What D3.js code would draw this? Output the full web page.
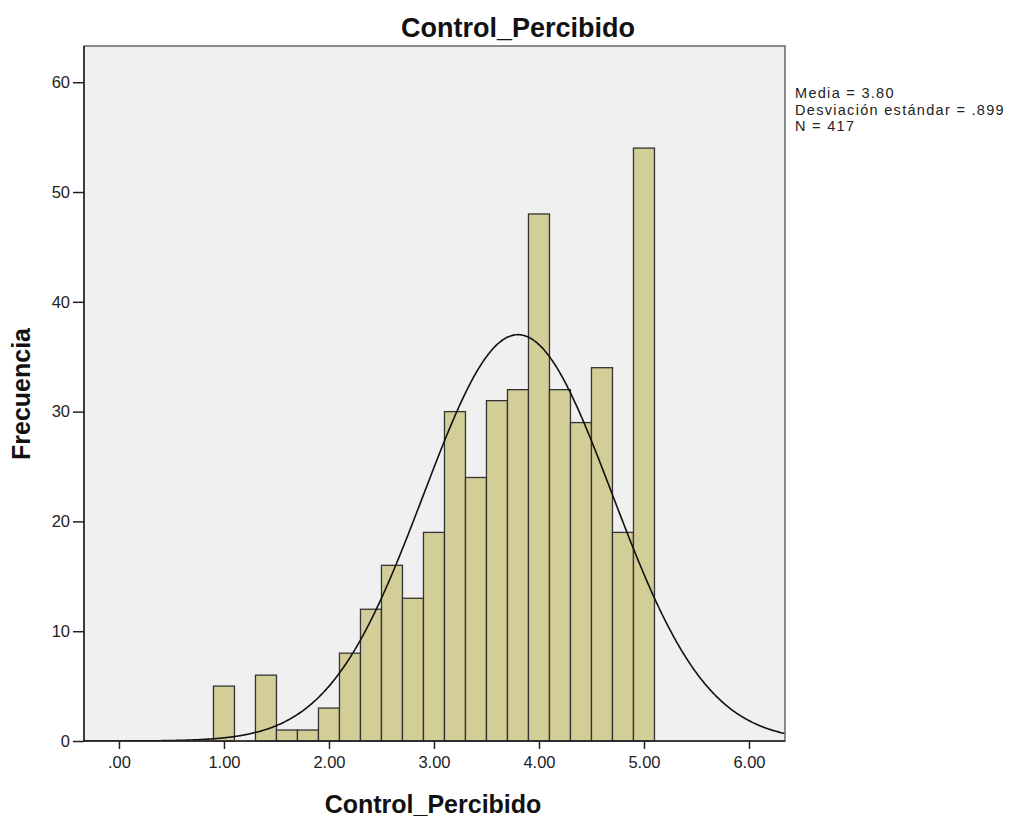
<!DOCTYPE html>
<html><head><meta charset="utf-8">
<script src="https://cdn.jsdelivr.net/npm/d3@7"></script>
<style>body{margin:0;background:#fff;} text{font-family:"Liberation Sans",Arial,sans-serif;}</style>
</head><body>
<svg id="c" width="1024" height="819"></svg>
<script>
const binCenters = [1.0,1.2,1.4,1.6,1.8,2.0,2.2,2.4,2.6,2.8,3.0,3.2,3.4,3.6,3.8,4.0,4.2,4.4,4.6,4.8,5.0];
const counts     = [5,0,6,1,1,3,8,12,16,13,19,30,24,31,32,48,32,29,34,19,54];
const binWidth = 0.2;
const xTicks = [0,1,2,3,4,5,6];
const xTickLabels = [".00","1.00","2.00","3.00","4.00","5.00","6.00"];
const yTicks = [0,10,20,30,40,50,60];
const statsLines = ["Media = 3.80","Desviación estándar = .899","N = 417"];
const mean = 3.80, sd = 0.899, N = 417;

const svg = d3.select("#c");
const L=84, T=46, R=785, B=741;
const x = d3.scaleLinear().domain([-0.333, 6.343]).range([L, R]);
const y = d3.scaleLinear().domain([0, 63.3]).range([B, T]);

svg.append("rect").attr("x",L).attr("y",T).attr("width",R-L).attr("height",B-T)
  .attr("fill","#f0f0f0").attr("stroke","#666").attr("stroke-width",1.5);

svg.append("clipPath").attr("id","clip").append("rect").attr("x",L).attr("y",T).attr("width",R-L).attr("height",B-T);

svg.append("g").selectAll("rect").data(binCenters.map((c,i)=>({c,v:counts[i]})).filter(d=>d.v>0))
  .join("rect")
  .attr("x",d=>x(d.c-binWidth/2)).attr("width",d=>x(d.c+binWidth/2)-x(d.c-binWidth/2))
  .attr("y",d=>y(d.v)).attr("height",d=>y(0)-y(d.v))
  .attr("fill","#d3ce98").attr("stroke","#333").attr("stroke-width",1.3);

const pts = d3.range(-0.333, 6.344, 0.01).map(v=>[v, N*binWidth*Math.exp(-0.5*((v-mean)/sd)**2)/(sd*Math.sqrt(2*Math.PI))]);
svg.append("path").attr("clip-path","url(#clip)").datum(pts)
  .attr("d", d3.line().x(d=>x(d[0])).y(d=>y(d[1])).curve(d3.curveBasis))
  .attr("fill","none").attr("stroke","#111").attr("stroke-width",1.6);

// axes
const yAxis = d3.axisLeft(y).tickValues(yTicks).tickSize(11).tickPadding(3).tickFormat(d3.format("d"));
const gy = svg.append("g").attr("transform",`translate(${L},0)`).call(yAxis);
const xAxis = d3.axisBottom(x).tickValues(xTicks).tickSize(8).tickPadding(7).tickFormat((d,i)=>xTickLabels[i]);
const gx = svg.append("g").attr("transform",`translate(0,${B})`).call(xAxis);
[gx,gy].forEach(g=>{
  g.select(".domain").remove();
  g.selectAll("line").attr("stroke","#222").attr("stroke-width",1.5);
  g.selectAll("text").attr("font-size",16.5).attr("fill","#222").attr("font-family","Liberation Sans, Arial, sans-serif");
});
svg.append("line").attr("x1",L).attr("x2",L).attr("y1",T).attr("y2",B).attr("stroke","#222").attr("stroke-width",1.5);
svg.append("line").attr("x1",L).attr("x2",R).attr("y1",B).attr("y2",B).attr("stroke","#222").attr("stroke-width",1.5);

svg.append("text").attr("x",518).attr("y",37).attr("text-anchor","middle")
  .attr("font-size",27).attr("font-weight","bold").attr("fill","#111").text("Control_Percibido");
svg.append("text").attr("x",433).attr("y",813).attr("text-anchor","middle")
  .attr("font-size",25).attr("font-weight","bold").attr("fill","#111").text("Control_Percibido");
svg.append("text").attr("transform","translate(30,394) rotate(-90)").attr("text-anchor","middle")
  .attr("font-size",25).attr("font-weight","bold").attr("fill","#111").text("Frecuencia");

svg.append("g").selectAll("text").data(statsLines).join("text")
  .attr("x",795).attr("y",(d,i)=>98+i*16.5).attr("font-size",14.5).attr("letter-spacing",1.3)
  .attr("fill","#222").text(d=>d);
</script>
</body></html>
